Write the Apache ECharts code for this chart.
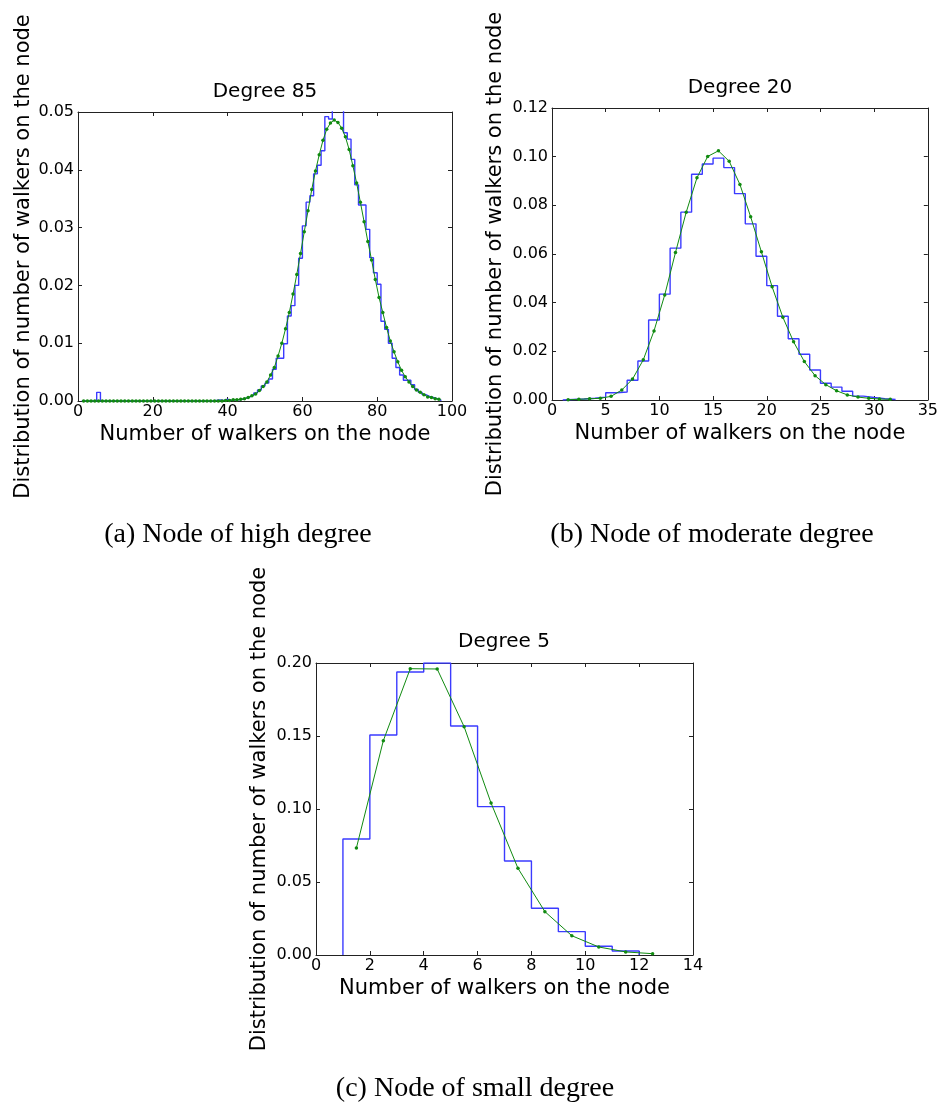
<!DOCTYPE html>
<html>
<head>
<meta charset="utf-8">
<title>Distribution of walkers per node</title>
<script src="https://cdn.jsdelivr.net/npm/echarts@6/dist/echarts.min.js"></script>
<style>
  html, body { margin: 0; padding: 0; background: #fff; }
  #chart { width: 941px; height: 1106px; }
</style>
</head>
<body>
<div id="chart"></div>
<script>
// ---- data ----
// histogram bins have width 1, first bin starts at histStart*
// fit points sit at bin centres, first one at fitStart*

// (a) degree 85
const histStartA = 1;
const histA = [
  0, 0, 0, 0, 0.0015,
  0, 0, 0, 0, 0, 0, 0, 0, 0, 0,
  0, 0, 0, 0, 0, 0, 0, 0, 0, 0,
  0, 0, 0, 0, 0, 0, 0, 0, 0, 0,
  0.0001, 0.0002, 0.0001, 0.0003, 0.0001, 0.0002, 0.0002, 0.0003,
  0.0005, 0.0007, 0.0010, 0.0014, 0.0019, 0.0026, 0.0031, 0.0038, 0.0055, 0.0074,
  0.0074, 0.0099, 0.0147, 0.0165, 0.0200, 0.0247, 0.0303, 0.0344, 0.0355, 0.0393,
  0.0408, 0.0433, 0.0492, 0.0488, 0.0512, 0.0509, 0.0503, 0.0464, 0.0453, 0.0418,
  0.0374, 0.0339, 0.0339, 0.0297, 0.0248, 0.0222, 0.0202, 0.0138, 0.0124, 0.0100,
  0.0074, 0.0058, 0.0045, 0.0036, 0.0036, 0.0028, 0.0020, 0.0015, 0.0011, 0.0008,
  0.0006, 0.0004, 0.0002
];
const fitStartA = 1.5;
const fitA = [
  0, 0, 0, 0, 0, 0, 0, 0, 0, 0,
  0, 0, 0, 0, 0, 0, 0, 0, 0, 0,
  0, 0, 0, 0, 0, 0, 0, 0, 0, 0,
  0, 0, 0, 0, 0, 0, 0, 0,
  0.0001, 0.0001, 0.0002, 0.0002, 0.0003,
  0.0004, 0.0006, 0.0009, 0.0012, 0.0018, 0.0025, 0.0033, 0.0045, 0.0058, 0.0078,
  0.0100, 0.0125, 0.0153, 0.0185, 0.0219, 0.0255, 0.0293, 0.0329, 0.0366, 0.0398,
  0.0426, 0.0451, 0.0470, 0.0481, 0.0486, 0.0482, 0.0472, 0.0457, 0.0435, 0.0407,
  0.0377, 0.0344, 0.0310, 0.0276, 0.0244, 0.0210, 0.0179, 0.0153, 0.0127, 0.0104,
  0.0085, 0.0068, 0.0053, 0.0042, 0.0033, 0.0025, 0.0019, 0.0015, 0.0011, 0.0007,
  0.0006, 0.0004, 0.0003
];

// (b) degree 20
const histStartB = 1;
const histB = [
  0.0002, 0.0004, 0.0007, 0.0012, 0.0030, 0.0033, 0.0081, 0.0160, 0.0329, 0.0435,
  0.0624, 0.0772, 0.0928, 0.0970, 0.0994, 0.0955, 0.0848, 0.0724, 0.0591, 0.0470,
  0.0344, 0.0252, 0.0188, 0.0123, 0.0069, 0.0053, 0.0036, 0.0016, 0.0010, 0.0005,
  0.0002
];
const fitStartB = 1.5;
const fitB = [
  0.0001, 0.0003, 0.0005, 0.0007, 0.0015, 0.0041, 0.0086, 0.0165, 0.0284, 0.0432,
  0.0606, 0.0772, 0.0913, 0.1001, 0.1024, 0.0981, 0.0886, 0.0753, 0.0609, 0.0465,
  0.0340, 0.0239, 0.0158, 0.0100, 0.0063, 0.0038, 0.0021, 0.0012, 0.0007, 0.0004,
  0.0003
];

// (c) degree 5
const histStartC = 1;
const histC = [0.0795, 0.1507, 0.1938, 0.2000, 0.1568, 0.1016, 0.0644, 0.0320, 0.0160, 0.0060, 0.0027];
const fitStartC = 1.5;
const fitC = [0.0733, 0.1468, 0.1961, 0.1959, 0.1564, 0.1041, 0.0594, 0.0297, 0.0132, 0.0055, 0.0021, 0.0009];

// axis ranges [min, max, interval]
const xRangeA = [0, 100, 20], yRangeA = [0, 0.05, 0.01];
const xRangeB = [0, 35, 5],   yRangeB = [0, 0.12, 0.02];
const xRangeC = [0, 14, 2],   yRangeC = [0, 0.20, 0.05];

const titles = ['Degree 85', 'Degree 20', 'Degree 5'];
const captions = ['(a) Node of high degree', '(b) Node of moderate degree', '(c) Node of small degree'];
const xName = 'Number of walkers on the node';
const yName = 'Distribution of number of walkers on the node';

// ---- styling ----
const sans = 'DejaVu Sans';
const serif = 'Liberation Serif';
const frame = '#222';
const blue = '#3b3bff';
const green = '#108a10';

// step histogram: start at 0, one point per bin left edge, close at last edge
function stepData(start, vals) {
  const d = [[start, 0]];
  vals.forEach((v, i) => d.push([start + i, v]));
  d.push([start + vals.length, 0]);
  return d;
}
function fitData(start, vals) {
  return vals.map((v, i) => [start + i, v]);
}

function xAxes(g, r) {
  const common = {
    type: 'value', gridIndex: g, min: r[0], max: r[1], interval: r[2],
    axisLine: { show: true, onZero: false, lineStyle: { color: frame, width: 1 } },
    axisTick: { show: true, inside: true, length: 4, lineStyle: { color: frame } },
    splitLine: { show: false }
  };
  return [
    Object.assign({}, common, {
      position: 'bottom', name: xName, nameLocation: 'middle', nameGap: 23,
      nameTextStyle: { fontFamily: sans, fontSize: 21, color: '#000' },
      axisLabel: { fontFamily: sans, fontSize: 16, color: '#000', margin: 3 }
    }),
    Object.assign({}, common, { position: 'top', axisLabel: { show: false } })
  ];
}
function yAxes(g, r, gap) {
  const common = {
    type: 'value', gridIndex: g, min: r[0], max: r[1], interval: r[2],
    axisLine: { show: true, onZero: false, lineStyle: { color: frame, width: 1 } },
    axisTick: { show: true, inside: true, length: 4, lineStyle: { color: frame } },
    splitLine: { show: false }
  };
  return [
    Object.assign({}, common, {
      position: 'left', name: yName, nameLocation: 'middle', nameGap: gap,
      nameTextStyle: { fontFamily: sans, fontSize: 21, color: '#000' },
      axisLabel: { fontFamily: sans, fontSize: 16, color: '#000', margin: 4,
        formatter: v => v.toFixed(2) }
    }),
    Object.assign({}, common, { position: 'right', axisLabel: { show: false } })
  ];
}

function seriesFor(g, hStart, hist, fStart, fit) {
  return [
    {
      type: 'line', xAxisIndex: 2 * g, yAxisIndex: 2 * g,
      data: stepData(hStart, hist), step: 'end', showSymbol: false,
      lineStyle: { color: blue, width: 1.4 }, itemStyle: { color: blue }, z: 2
    },
    {
      type: 'line', xAxisIndex: 2 * g, yAxisIndex: 2 * g,
      data: fitData(fStart, fit), symbol: 'circle', symbolSize: 3.5, showSymbol: true,
      lineStyle: { color: green, width: 1 }, itemStyle: { color: green }, z: 3
    }
  ];
}

function label(text, x, y, font) {
  return {
    type: 'text', x: x, y: y, silent: true,
    style: {
      text: text, font: font, fill: '#000',
      textAlign: 'center', textVerticalAlign: 'middle',
      align: 'center', verticalAlign: 'middle'
    }
  };
}

const chart = echarts.init(document.getElementById('chart'));
chart.setOption({
  backgroundColor: '#fff',
  animation: false,
  grid: [
    { left: 78, top: 112, width: 374, height: 289 },
    { left: 552, top: 108, width: 377, height: 292 },
    { left: 316, top: 663, width: 377, height: 292 }
  ],
  xAxis: [].concat(xAxes(0, xRangeA), xAxes(1, xRangeB), xAxes(2, xRangeC)),
  yAxis: [].concat(yAxes(0, yRangeA, 42), yAxes(1, yRangeB, 46), yAxes(2, yRangeC, 46)),
  series: [].concat(
    seriesFor(0, histStartA, histA, fitStartA, fitA),
    seriesFor(1, histStartB, histB, fitStartB, fitB),
    seriesFor(2, histStartC, histC, fitStartC, fitC)
  ),
  graphic: [
    label(titles[0], 265, 92, '20px "' + sans + '"'),
    label(titles[1], 740, 88, '20px "' + sans + '"'),
    label(titles[2], 504, 642, '20px "' + sans + '"'),
    label(captions[0], 238, 535, '28px "' + serif + '"'),
    label(captions[1], 712, 535, '28px "' + serif + '"'),
    label(captions[2], 475, 1089, '28px "' + serif + '"')
  ]
});
</script>
</body>
</html>
